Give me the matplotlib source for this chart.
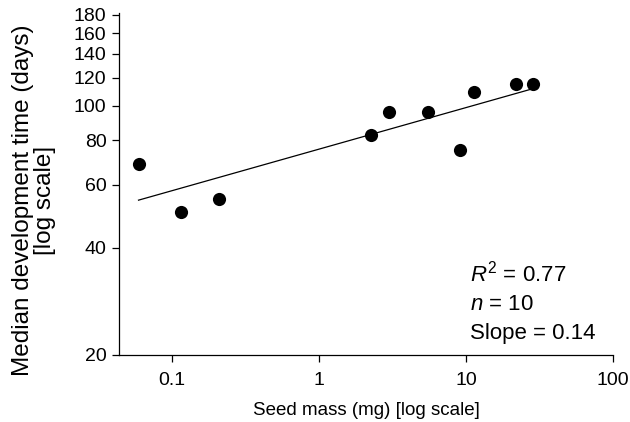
import numpy as np
import matplotlib.pyplot as plt
from matplotlib.ticker import FixedLocator, NullLocator, FixedFormatter

plt.rcParams['font.family'] = ['Liberation Sans', 'DejaVu Sans']
plt.rcParams['mathtext.fontset'] = 'custom'
plt.rcParams['mathtext.rm'] = 'Liberation Sans'
plt.rcParams['mathtext.it'] = 'Liberation Sans:italic'

# Seed mass (mg) and median development time (days)
seed_mass = [0.059, 0.115, 0.209, 2.26, 2.99, 5.51, 9.10, 11.3, 21.9, 28.6]
dev_time = [68.8, 50.2, 54.6, 82.9, 96.1, 96.1, 75.2, 109.3, 115.0, 115.0]

x_ticks = [0.1, 1, 10, 100]
x_tick_labels = ['0.1', '1', '10', '100']
y_ticks = [20, 40, 60, 80, 100, 120, 140, 160, 180]

fig = plt.figure(figsize=(6.3, 4.22), dpi=100)
ax = fig.add_axes([0.189, 0.159, 0.784, 0.81])

ax.scatter(seed_mass, dev_time, s=90, color='black', zorder=3, linewidths=0)

# log-log least squares fit
lx = np.log10(seed_mass)
ly = np.log10(dev_time)
slope, intercept = np.polyfit(lx, ly, 1)
xf = np.array([min(lx), max(lx)])
ax.plot(10 ** xf, 10 ** (intercept + slope * xf), color='black', lw=0.9)

ax.set_xscale('log')
ax.set_yscale('log')
ax.set_xlim(0.0435, 100)
ax.set_ylim(20, 182)

ax.xaxis.set_major_locator(FixedLocator(x_ticks))
ax.xaxis.set_major_formatter(FixedFormatter(x_tick_labels))
ax.xaxis.set_minor_locator(NullLocator())
ax.yaxis.set_major_locator(FixedLocator(y_ticks))
ax.yaxis.set_major_formatter(FixedFormatter([str(v) for v in y_ticks]))
ax.yaxis.set_minor_locator(NullLocator())

for side in ['top', 'right']:
    ax.spines[side].set_visible(False)
for side in ['left', 'bottom']:
    ax.spines[side].set_linewidth(0.9)

ax.tick_params(direction='out', length=5, width=0.9, labelsize=14)
ax.tick_params(axis='x', pad=7)
ax.tick_params(axis='y', pad=4)

ax.set_xlabel('Seed mass (mg) [log scale]', fontsize=13.5, labelpad=10)
ax.set_ylabel('Median development time (days)\n[log scale]', fontsize=17.5,
              linespacing=1.0)
ax.yaxis.set_label_coords(-0.128, 0.453)

ax.text(0.71, 0.216, r'$\mathit{R}^2$ = 0.77', transform=ax.transAxes,
        fontsize=16, va='baseline')
ax.text(0.71, 0.132, r'$\mathit{n}$ = 10', transform=ax.transAxes,
        fontsize=16, va='baseline')
ax.text(0.71, 0.047, 'Slope = 0.14', transform=ax.transAxes,
        fontsize=16, va='baseline')

plt.savefig('out.png', dpi=100)
